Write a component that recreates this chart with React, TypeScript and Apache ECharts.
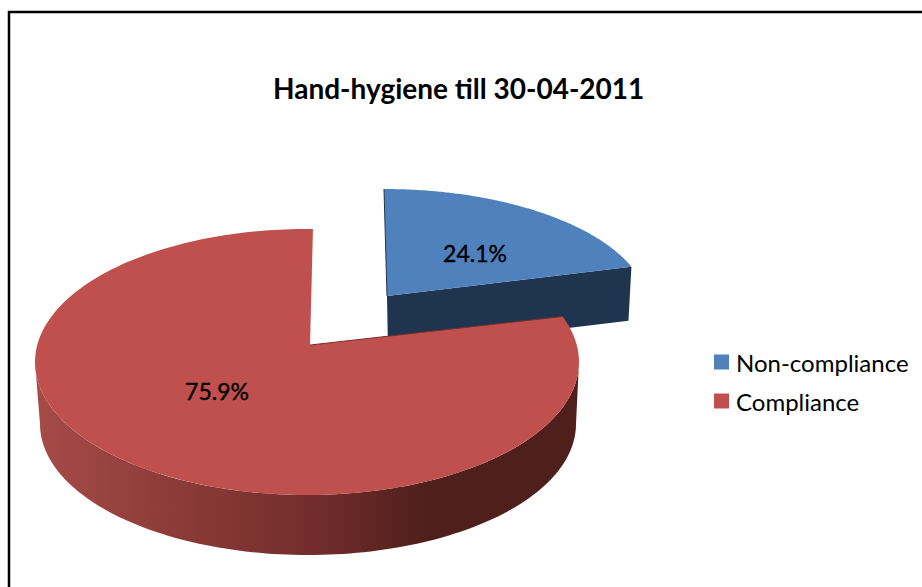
import React, { useEffect, useRef } from "react";
import * as echarts from "echarts";

const chartTitle = "Hand-hygiene till 30-04-2011";
const sliceNames = ["Non-compliance", "Compliance"];
const sliceValues = [24.1, 75.9];
const valueLabels = ["24.1%", "75.9%"];
const topColors = ["#4F81BD", "#C0504D"];

const TAU = Math.PI * 2;
const total = sliceValues.reduce((a, b) => a + b, 0);

// Tilted-disc geometry of each slice, in pixels.
const discs = [
  {
    apex: [387, 296], top: [384, 310, 265, 121], base: [382, 362, 258, 119],
    shift: 0, warp: 0.31,
    side: "#1F344F", cut: "#1F344F", labelAt: [475, 253],
  },
  {
    apex: [310, 345], top: [307, 362, 272, 133], base: [308, 424, 268, 131],
    shift: 0.022, warp: 0.315,
    side: "", cut: "#7A2F2C", labelAt: [217, 391],
  },
];

// Sweep position along the ellipse for a cumulative share of the pie.
const rimParam = (share: number, d: any) => {
  const a = share * TAU;
  return d.shift + a - d.warp * Math.sin(a);
};
const rim = (t: number, e: number[]) => [e[0] + e[2] * Math.sin(t), e[1] - e[3] * Math.cos(t)];

const sweep = (from: number, to: number, e: number[], d: any) => {
  const n = 160;
  const pts: number[][] = [];
  for (let i = 0; i <= n; i++) pts.push(rim(rimParam(from + ((to - from) * i) / n, d), e));
  return pts;
};

const redSide = new echarts.graphic.LinearGradient(0, 0, 1, 0, [
  { offset: 0, color: "#A64B47" },
  { offset: 0.28, color: "#8A3A37" },
  { offset: 0.52, color: "#712D2B" },
  { offset: 0.72, color: "#4F1F1C" },
  { offset: 1, color: "#4F1F1C" },
]);

const renderSlice = (index: number) => (_params: any, _api: any) => {
  const d = discs[index];
  const from = sliceValues.slice(0, index).reduce((a, b) => a + b, 0) / total;
  const to = from + sliceValues[index] / total;
  const children: any[] = [];
  const topArc = sweep(from, to, d.top, d);
  const first = topArc[0];
  const last = topArc[topArc.length - 1];
  if (index === 0) {
    // Cut face along the slice's trailing radius.
    const drop = 54;
    children.push({
      type: "polygon",
      shape: { points: [d.apex, last, [last[0] - 3, last[1] + drop], [d.apex[0] + 1, d.apex[1] + drop]] },
      style: { fill: d.side },
    });
  } else {
    // Outer wall: the front half of the rim extruded down to the base ellipse.
    const wallTop: number[][] = [];
    const wallBase: number[][] = [];
    for (let i = 0; i <= 120; i++) {
      const t = Math.PI / 2 + (Math.PI * i) / 120;
      wallTop.push(rim(t, d.top));
      wallBase.push(rim(t, d.base));
    }
    children.push({
      type: "polygon",
      shape: { points: [...wallTop, ...wallBase.reverse()] },
      style: { fill: redSide },
    });
  }
  children.push({
    type: "polygon",
    shape: { points: [d.apex, ...topArc] },
    style: { fill: topColors[index] },
  });
  children.push({
    type: "line",
    shape: { x1: first[0], y1: first[1], x2: d.apex[0], y2: d.apex[1] },
    style: { stroke: d.cut, lineWidth: 1 },
  });
  children.push({
    type: "text",
    x: d.labelAt[0],
    y: d.labelAt[1],
    style: {
      text: valueLabels[index],
      fill: "#000000",
      stroke: "#000000",
      lineWidth: 0.4,
      font: '23px Lato, "Noto Sans", sans-serif',
      align: "center",
      verticalAlign: "middle",
    },
  });
  return { type: "group", children };
};

export default function App() {
  const host = useRef<HTMLDivElement>(null);
  useEffect(() => {
    document.body.style.margin = "0";
    const chart = echarts.init(host.current!, undefined, { renderer: "svg" });
    chart.setOption({
      animation: false,
      backgroundColor: "#FFFFFF",
      title: {
        text: chartTitle,
        left: 268,
        top: 69,
        textStyle: { fontFamily: "Lato", fontWeight: "bold", fontSize: 28, color: "#000000" },
      },
      legend: {
        orient: "vertical",
        left: 709,
        top: 345,
        itemWidth: 15,
        itemHeight: 15,
        itemGap: 15,
        icon: "rect",
        data: sliceNames,
        textStyle: { fontFamily: "Lato", fontSize: 24, color: "#000000", padding: [0, 0, 0, 2] },
      },
      // Chart-area frame: its right and bottom edges run off the page.
      graphic: [
        {
          type: "polyline",
          silent: true,
          shape: { points: [[9, 600], [9, 12], [930, 12]] },
          style: { fill: "none", stroke: "#000000", lineWidth: 2.5 },
        },
      ],
      // Drawn back to front: the exploded slice sits behind the larger one.
      series: sliceNames.map((name, i) => ({
        type: "custom",
        name,
        coordinateSystem: "none",
        renderItem: renderSlice(i),
        itemStyle: { color: topColors[i] },
        data: [sliceValues[i]],
        silent: true,
      })),
    });
    return () => chart.dispose();
  }, []);
  return <div ref={host} style={{ width: 922, height: 587 }} />;
}
